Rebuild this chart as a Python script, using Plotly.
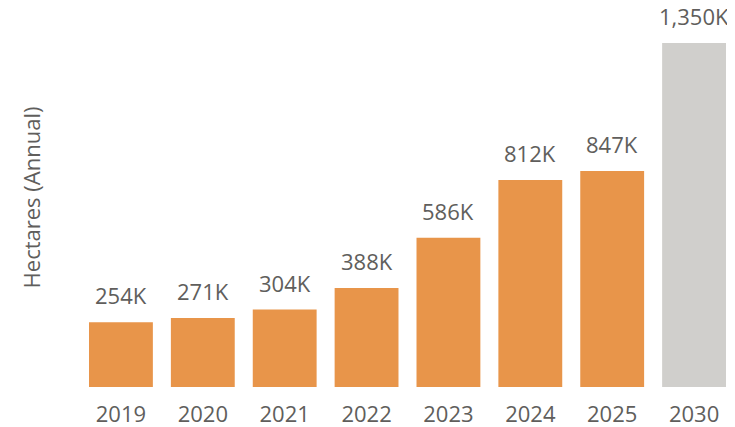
import plotly.graph_objects as go

years = ["2019", "2020", "2021", "2022", "2023", "2024", "2025", "2030"]
hectares_k = [254, 271, 304, 388, 586, 812, 847, 1350]
labels = ["254K", "271K", "304K", "388K", "586K", "812K", "847K", "1,350K"]

bar_colors = ["#E8954A"] * 7 + ["#D0CFCC"]
text_grey = "#605E5C"

fig = go.Figure(
    go.Bar(
        x=years,
        y=hectares_k,
        marker=dict(color=bar_colors, line=dict(width=0)),
        hoverinfo="x+y",
    )
)

# value labels sit a little higher above the bars than plotly's outside text
# (x given as category index, year strings would be read as numbers)
for i, (val, lab) in enumerate(zip(hectares_k, labels)):
    fig.add_annotation(
        x=i, y=val, text=lab, showarrow=False,
        yanchor="bottom", yshift=10,
        font=dict(family="Open Sans", size=22, color=text_grey),
    )

# page body has an 8px margin, so the figure is a bit smaller than the window
fig.update_layout(
    width=727,
    height=419,
    margin=dict(l=72, r=0, t=0, b=40),
    paper_bgcolor="white",
    plot_bgcolor="white",
    bargap=0.22,
    showlegend=False,
    font=dict(family="Open Sans", color=text_grey),
)
fig.update_xaxes(
    type="category",
    range=[-0.5, len(years) - 0.5],
    showgrid=False,
    showline=False,
    tickfont=dict(size=22, color=text_grey),
    ticklabelstandoff=12,
)
fig.update_yaxes(
    range=[0, 1487],
    showgrid=False,
    zeroline=False,
    showticklabels=False,
    title=dict(text="Hectares (Annual)", font=dict(size=22, color=text_grey), standoff=32),
)

fig.write_html("out.html")
